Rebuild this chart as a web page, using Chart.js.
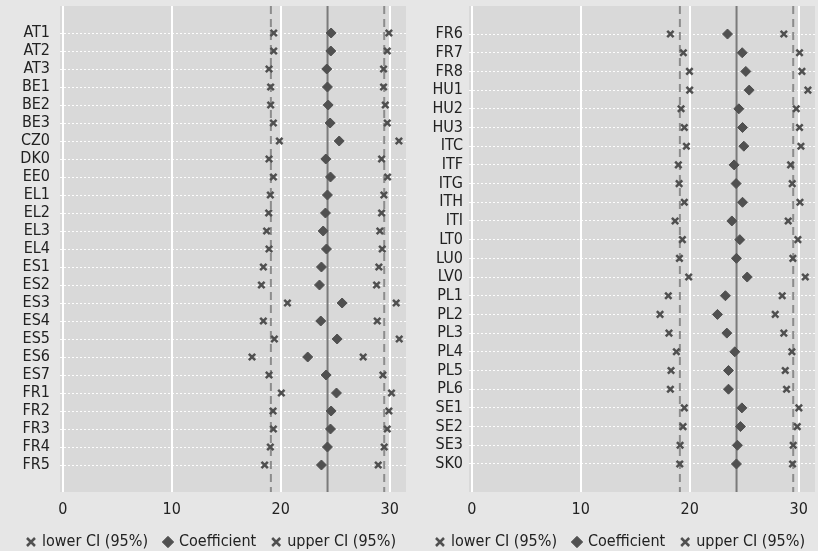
<!DOCTYPE html>
<html>
<head>
<meta charset="utf-8">
<script src="https://cdn.jsdelivr.net/npm/chart.js@4.4.1/dist/chart.umd.min.js"></script>
<style>
    body { margin: 0; background: #e6e6e6; }
    .wrap { display: flex; width: 818px; height: 551px; }
    .panel { width: 409px; height: 551px; }
</style>
</head>
<body>
<div class="wrap">
    <div class="panel"><canvas id="chartLeft" width="409" height="551"></canvas></div>
    <div class="panel"><canvas id="chartRight" width="409" height="551"></canvas></div>
</div>
<script>
//Left panel
const rowsLeft = ['AT1', 'AT2', 'AT3', 'BE1', 'BE2', 'BE3', 'CZ0', 'DK0', 'EE0', 'EL1', 'EL2', 'EL3', 'EL4',
    'ES1', 'ES2', 'ES3', 'ES4', 'ES5', 'ES6', 'ES7', 'FR1', 'FR2', 'FR3', 'FR4', 'FR5'];
const lowerLeft = [19.36, 19.36, 18.93, 19.08, 19.08, 19.33, 19.88, 18.93, 19.33, 19.05, 18.9, 18.71, 18.93,
    18.41, 18.23, 20.62, 18.41, 19.42, 17.37, 18.93, 20.06, 19.3, 19.33, 19.05, 18.53];
const coefLeft = [24.63, 24.6, 24.23, 24.29, 24.36, 24.54, 25.37, 24.14, 24.57, 24.29, 24.11, 23.9, 24.2,
    23.74, 23.56, 25.64, 23.68, 25.18, 22.48, 24.17, 25.12, 24.63, 24.57, 24.29, 23.74];
const upperLeft = [29.93, 29.78, 29.44, 29.44, 29.6, 29.78, 30.85, 29.26, 29.81, 29.47, 29.26, 29.1, 29.32,
    29.01, 28.8, 30.6, 28.86, 30.88, 27.57, 29.38, 30.17, 29.93, 29.78, 29.5, 28.95];

//Right panel
const rowsRight = ['FR6', 'FR7', 'FR8', 'HU1', 'HU2', 'HU3', 'ITC', 'ITF', 'ITG', 'ITH', 'ITI', 'LT0',
    'LU0', 'LV0', 'PL1', 'PL2', 'PL3', 'PL4', 'PL5', 'PL6', 'SE1', 'SE2', 'SE3', 'SK0'];
const lowerRight = [18.23, 19.42, 19.98, 20.0, 19.21, 19.51, 19.7, 18.96, 19.03, 19.51, 18.66, 19.33,
    19.06, 19.91, 18.04, 17.28, 18.1, 18.78, 18.29, 18.23, 19.51, 19.39, 19.12, 19.09];
const coefRight = [23.47, 24.82, 25.15, 25.46, 24.51, 24.85, 24.97, 24.08, 24.26, 24.85, 23.87, 24.6,
    24.29, 25.28, 23.28, 22.55, 23.41, 24.14, 23.56, 23.56, 24.79, 24.66, 24.38, 24.29];
const upperRight = [28.64, 30.08, 30.3, 30.85, 29.78, 30.08, 30.21, 29.26, 29.41, 30.12, 29.04, 29.93,
    29.47, 30.61, 28.49, 27.85, 28.64, 29.38, 28.77, 28.89, 30.02, 29.87, 29.5, 29.44];

//Average lines (lower CI, coefficient, upper CI)
const avgLines = [19.1, 24.3, 29.5];
const xTicks = [0, 10, 20, 30];
const legendLabels = ['lower CI (95%)', 'Coefficient', 'upper CI (95%)'];

const FONT = { family: "'Liberation Sans Narrow', 'DejaVu Sans Condensed', sans-serif", size: 16 };
const MARK = '#505050';

const plotBackground = {
    id: 'plotBackground',
    beforeDraw(chart) {
        let { ctx, chartArea: a } = chart;
        ctx.save();
        ctx.fillStyle = '#d9d9d9';
        ctx.fillRect(a.left, a.top, a.right - a.left, a.bottom - a.top);
        ctx.restore();
    }
};

//Nudge legend a little to the right like the original
const legendShift = {
    id: 'legendShift',
    afterLayout(chart) {
        chart.legend.left += 9;
        chart.legend.right += 9;
    }
};

createChart('chartLeft', rowsLeft, lowerLeft, coefLeft, upperLeft, 10);
createChart('chartRight', rowsRight, lowerRight, coefRight, upperRight, 6);

function toPoints(values) {
    return values.map((v, i) => ({ x: v, y: i }));
}

function refLine(x, yMax, dashed, color) {
    return {
        type: 'line',
        data: [{ x: x, y: -1.5 }, { x: x, y: yMax }],
        showLine: true,
        borderColor: color,
        borderWidth: 2,
        borderDash: dashed ? [8, 5] : [],
        pointRadius: 0,
        order: 10
    };
}

function createChart(id, rows, lower, coef, upper, labelPad) {
    let yMax = rows.length + 0.5;
    let crossSet = (label, values) => ({
        label: label,
        data: toPoints(values),
        pointStyle: 'crossRot',
        pointRadius: 4.5,
        pointBorderWidth: 2.5,
        borderWidth: 2.5,
        borderColor: MARK,
        backgroundColor: MARK,
        order: 1
    });
    new Chart(document.getElementById(id), {
        type: 'scatter',
        data: {
            datasets: [
                crossSet(legendLabels[0], lower),
                {
                    label: legendLabels[1],
                    data: toPoints(coef),
                    pointStyle: 'rectRot',
                    pointRadius: 5,
                    borderWidth: 1,
                    borderColor: MARK,
                    backgroundColor: MARK,
                    order: 1
                },
                crossSet(legendLabels[2], upper),
                refLine(avgLines[0], yMax, true, '#8c8c8c'),
                refLine(avgLines[1], yMax, false, '#7a7a7a'),
                refLine(avgLines[2], yMax, true, '#8c8c8c')
            ]
        },
        options: {
            responsive: false,
            animation: false,
            layout: { autoPadding: false, padding: { top: 6, right: 3, bottom: 0, left: 0 } },
            scales: {
                x: {
                    type: 'linear',
                    min: -0.25,
                    max: 31.5,
                    afterBuildTicks: axis => { axis.ticks = xTicks.map(v => ({ value: v })); },
                    afterFit: s => { s.height = 25; s.paddingLeft = 0; s.paddingRight = 0; },
                    grid: { color: '#ffffff', lineWidth: 2, drawTicks: false },
                    border: { display: false },
                    ticks: { color: '#222', font: FONT, padding: 8 }
                },
                y: {
                    type: 'linear',
                    reverse: true,
                    min: -1.5,
                    max: yMax,
                    afterBuildTicks: axis => { axis.ticks = rows.map((r, i) => ({ value: i })); },
                    afterFit: s => { s.width = 60; s.paddingTop = 0; s.paddingBottom = 0; },
                    grid: { color: 'rgba(255,255,255,0.95)', lineWidth: 1, drawTicks: false },
                    border: { display: false, dash: [2, 2] },
                    ticks: {
                        color: '#222', font: FONT, padding: labelPad, autoSkip: false,
                        callback: v => rows[v]
                    }
                }
            },
            plugins: {
                tooltip: { enabled: false },
                legend: {
                    position: 'bottom',
                    maxHeight: 34,
                    labels: {
                        usePointStyle: true,
                        boxWidth: 6,
                        boxHeight: 8,
                        padding: 17,
                        color: '#222',
                        font: FONT,
                        filter: item => item.datasetIndex < 3
                    }
                }
            }
        },
        plugins: [plotBackground, legendShift]
    });
}
</script>
</body>
</html>
